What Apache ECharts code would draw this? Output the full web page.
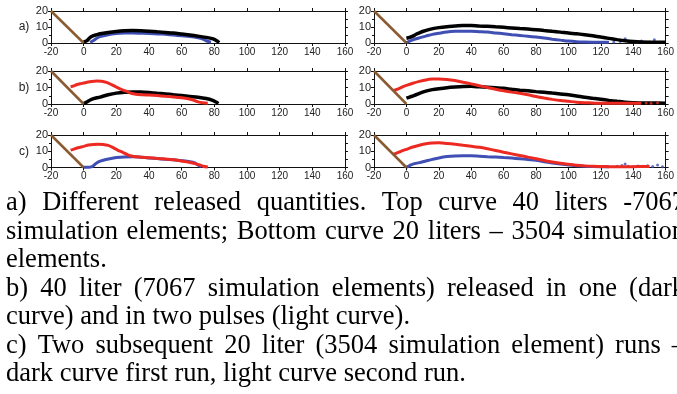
<!DOCTYPE html>
<html><head><meta charset="utf-8">
<script src="https://cdn.jsdelivr.net/npm/echarts@6/dist/echarts.min.js"></script>
<style>html,body{margin:0;padding:0;background:#fff}#c{width:677px;height:394px}</style>
</head><body><div id="c"></div><script>
// ---------- data ----------
const xMin = -20, xMax = 160, xStep = 20;
const yMin = 0, yMax = 20;
const rowLabels = ['a)', 'b)', 'c)'];
const brownLine = [[-20, 20], [0, 0]];

// a) left
const aL_black = [[0,0.5],[2,1.5],[4,3.5],[6,4.6],[8,5.2],[10,5.8],[15,6.6],[20,7.2],[25,7.6],[30,7.8],[35,7.7],[40,7.4],[45,7.0],[50,6.6],[55,6.2],[60,5.6],[65,5.0],[70,4.3],[75,3.5],[78,2.9],[80,2.3],[82,1.0],[83,0.2]];
const aL_blue = [[4,0.3],[6,1.5],[8,3.0],[10,4.0],[15,5.2],[20,5.9],[25,6.2],[30,6.2],[35,6.1],[40,6.0],[45,5.7],[50,5.4],[55,5.0],[60,4.5],[65,4.0],[70,3.2],[73,2.4],[75,1.4],[77,0.8],[78,0.6]];
// a) right
const aR_black = [[0,3.0],[2,3.5],[4,4.3],[6,5.5],[8,6.3],[10,7.2],[15,8.7],[20,9.6],[25,10.2],[30,10.6],[35,11.0],[40,10.9],[45,10.6],[50,10.4],[55,10.1],[60,9.8],[65,9.4],[70,9.0],[75,8.7],[80,8.3],[85,7.8],[90,7.3],[95,6.8],[100,6.2],[105,5.8],[110,5.2],[115,4.5],[120,3.7],[125,2.9],[130,2.1],[135,1.4],[140,0.9],[145,0.6],[150,0.5],[155,0.5],[160,0.4]];
const aR_blue = [[0,0.2],[2,1.2],[4,2.0],[8,3.2],[12,4.3],[16,5.4],[20,6.1],[25,6.9],[30,7.3],[35,7.4],[40,7.4],[45,7.1],[50,6.8],[55,6.3],[60,5.8],[65,5.2],[70,4.7],[75,4.2],[80,3.7],[85,3.1],[90,2.4],[95,1.8],[100,1.2],[105,0.8],[110,0.6],[115,0.5],[120,0.5],[125,0.4]];
const aR_blueTail = [[128,0.6],[132,1.0],[135,2.6],[138,0.8],[142,0.5],[145,1.2],[150,0.6],[153,2.0],[157,0.5]];
// b) left
const bL_black = [[0,0.3],[2,1.2],[4,2.4],[6,3.2],[8,3.8],[10,4.2],[15,5.6],[20,6.6],[25,7.1],[30,7.3],[35,7.2],[40,6.9],[45,6.5],[50,6.1],[55,5.6],[60,5.1],[65,4.6],[70,4.1],[75,3.3],[79,2.2],[81,1.2],[82.5,0.3]];
const bL_red = [[-8,10.5],[-6,11.0],[-4,11.8],[-2,12.3],[0,12.7],[2,13.2],[5,13.7],[8,13.9],[11,13.8],[14,13.1],[17,11.8],[20,10.3],[23,8.9],[26,7.8],[29,6.5],[32,5.9],[36,5.6],[40,5.4],[45,5.1],[50,4.7],[55,4.3],[60,3.8],[64,3.2],[67,2.4],[70,1.3],[73,0.7],[76,0.4]];
// b) right
const bR_black = [[0,3.5],[2,4.2],[5,5.2],[8,6.5],[12,7.8],[16,8.7],[20,9.3],[25,9.9],[30,10.3],[35,10.6],[40,10.7],[45,10.4],[50,10.1],[55,9.8],[60,9.5],[65,8.9],[70,8.4],[75,8.0],[80,7.5],[85,7.1],[90,6.6],[95,6.1],[100,5.6],[105,4.9],[110,4.1],[115,3.5],[120,2.9],[125,2.2],[130,1.6],[135,1.1],[140,0.8],[145,0.6],[150,0.6],[155,0.6],[160,0.5]];
const bR_red = [[-8,8.2],[-6,8.8],[-4,9.6],[-2,10.6],[0,11.3],[4,12.6],[8,13.7],[12,14.6],[16,15.1],[20,15.2],[25,14.9],[30,14.2],[35,13.2],[40,12.2],[45,11.1],[50,10.0],[55,8.9],[60,8.0],[65,7.2],[70,6.5],[75,5.6],[80,4.5],[85,3.6],[90,2.8],[95,2.1],[100,1.6],[105,1.1],[110,0.8],[115,0.6],[120,0.4],[125,0.4],[130,0.4],[135,0.4],[140,0.4],[145,0.5]];
const bR_redTail = [[148,0.6],[151,0.4],[155,0.7]];
// c) left
const cL_red = [[-8,10.7],[-6,11.3],[-4,12.0],[-2,12.5],[0,13.0],[3,13.8],[6,14.2],[9,14.3],[12,14.2],[15,13.6],[18,12.2],[21,10.6],[24,9.3],[27,7.8],[30,6.9],[34,6.4],[40,6.0],[45,5.6],[50,5.2],[55,4.7],[60,4.0],[64,3.3],[68,2.5],[71,1.6],[73,0.8],[76,0.3]];
const cL_blue = [[0,0.1],[3,0.1],[5,0.5],[7,2.0],[9,3.5],[12,4.5],[16,5.4],[20,6.1],[25,6.5],[30,6.6],[35,6.3],[40,5.9],[45,5.5],[50,5.1],[55,4.7],[60,4.2],[65,3.6],[68,2.9],[70,1.5],[72,0.5]];
// c) right
const cR_red = [[-8,8.2],[-6,8.9],[-4,9.7],[-2,10.5],[0,11.2],[4,12.6],[8,13.7],[12,14.6],[16,15.1],[20,15.2],[25,14.8],[30,14.3],[35,13.7],[40,13.1],[45,12.4],[50,11.5],[55,10.5],[60,9.4],[65,8.4],[70,7.4],[75,6.4],[80,5.4],[85,4.3],[90,3.4],[95,2.6],[100,2.0],[105,1.4],[110,1.0],[115,0.7],[120,0.6],[125,0.5],[130,0.5],[135,0.5],[140,0.5],[145,0.6],[150,0.6]];
const cR_blue = [[0,0.2],[2,1.2],[4,2.1],[8,3.0],[12,4.0],[16,5.0],[20,5.9],[25,6.7],[30,7.1],[35,7.2],[40,7.2],[45,6.9],[50,6.6],[55,6.4],[60,6.1],[65,5.8],[70,5.4],[75,4.9],[80,4.4],[85,3.6],[90,2.8],[95,2.1],[100,1.5],[105,1.1],[110,0.8],[115,0.6],[120,0.5],[125,0.5]];
const cR_blueTail = [[130,0.7],[133,1.2],[135,2.2],[137,0.8],[140,0.5],[143,1.0],[146,0.7],[149,1.1],[152,0.6],[155,1.6],[158,0.5]];

const captionLines = [
  {text: 'a) Different released quantities. Top curve 40 liters -7067', justify: true},
  {text: 'simulation elements; Bottom curve 20 liters \u2013 3504 simulation', justify: true},
  {text: 'elements.', justify: false},
  {text: 'b) 40 liter (7067 simulation elements) released in one (dark', justify: true},
  {text: 'curve) and in two pulses (light curve).', justify: false},
  {text: 'c) Two subsequent 20 liter (3504 simulation element) runs \u2013', justify: true},
  {text: 'dark curve first run, light curve second run.', justify: false}
];

// ---------- styles / layout ----------
const BLACK = '#000000', BLUE = '#3f4fb4', RED = '#ec2a22', BROWN = '#8a5a30';
const panels = [
  {row:0, col:0, lines:[[aL_blue,BLUE],[aL_black,BLACK]], dots:[]},
  {row:0, col:1, lines:[[aR_blue,BLUE],[aR_black,BLACK]], dots:[[aR_blueTail,BLUE]]},
  {row:1, col:0, lines:[[bL_black,BLACK],[bL_red,RED]], dots:[]},
  {row:1, col:1, lines:[[bR_black,BLACK],[bR_red,RED]], dots:[[bR_redTail,RED]]},
  {row:2, col:0, lines:[[cL_blue,BLUE],[cL_red,RED]], dots:[]},
  {row:2, col:1, lines:[[cR_blue,BLUE],[cR_red,RED]], dots:[[cR_blueTail,BLUE]]}
];
const colLeft = [51, 374], colWidth = [294, 296];
const rowTop = [11, 71, 135], rowHeight = [32, 33, 32.5];

const grids = [], xAxes = [], yAxes = [], series = [];
const axisLineStyle = {color: '#111', width: 1};
const labelStyle = {color: '#222', fontSize: 10, fontFamily: 'Liberation Sans, Arial, sans-serif'};

panels.forEach((p, i) => {
  grids.push({left: colLeft[p.col], top: rowTop[p.row], width: colWidth[p.col], height: rowHeight[p.row], containLabel: false});
  xAxes.push({gridIndex: i, type: 'value', position: 'bottom', min: xMin, max: xMax, interval: xStep,
    axisLine: {show: true, onZero: false, lineStyle: axisLineStyle},
    axisTick: {show: true, inside: false, length: 3, lineStyle: axisLineStyle},
    axisLabel: {show: true, margin: 4, interval: 0, showMinLabel: true, showMaxLabel: true, hideOverlap: false, ...labelStyle},
    splitLine: {show: false}});
  xAxes.push({gridIndex: i, type: 'value', position: 'top', min: xMin, max: xMax, interval: xStep,
    axisLine: {show: true, onZero: false, lineStyle: axisLineStyle},
    axisTick: {show: true, inside: false, length: 3, lineStyle: axisLineStyle},
    axisLabel: {show: false}, splitLine: {show: false}});
  yAxes.push({gridIndex: i, type: 'value', position: 'left', min: yMin, max: yMax, interval: 10,
    axisLine: {show: true, onZero: false, lineStyle: axisLineStyle},
    axisTick: {show: true, inside: false, length: 3, lineStyle: axisLineStyle},
    minorTick: {show: true, splitNumber: 2, length: 2, lineStyle: axisLineStyle},
    axisLabel: {show: true, margin: 3, ...labelStyle, fontSize: 11},
    splitLine: {show: false}});
  yAxes.push({gridIndex: i, type: 'value', position: 'right', min: yMin, max: yMax, interval: 5,
    axisLine: {show: true, onZero: false, lineStyle: axisLineStyle},
    axisTick: {show: true, inside: false, length: 3, lineStyle: axisLineStyle},
    axisLabel: {show: false}, splitLine: {show: false}});

  const xi = i * 2, yi = i * 2;
  p.lines.forEach((l, k) => {
    series.push({type: 'line', xAxisIndex: xi, yAxisIndex: yi, data: l[0], showSymbol: false, symbol: 'none',
      smooth: 0.3, lineStyle: {color: l[1], width: l[1] === BLACK ? 3.5 : 3}, z: 3 + k, silent: true, animation: false});
  });
  p.dots.forEach(d => {
    series.push({type: 'scatter', xAxisIndex: xi, yAxisIndex: yi, data: d[0], symbolSize: 3,
      itemStyle: {color: d[1]}, z: 3, silent: true, animation: false});
  });
  series.push({type: 'line', xAxisIndex: xi, yAxisIndex: yi, data: brownLine, showSymbol: false, symbol: 'none',
    lineStyle: {color: BROWN, width: 2.5}, z: 6, silent: true, animation: false});
});

// ---------- caption (justified serif text) ----------
const capFont = 26.5, capFamily = '"Liberation Serif", "Times New Roman", serif';
const capLeft = 6, capRight = 685, capBase0 = 212, capLineH = 28.5;
const ctx = document.createElement('canvas').getContext('2d');
ctx.font = capFont + 'px ' + capFamily;
const graphics = [];
captionLines.forEach((ln, li) => {
  const y = capBase0 + li * capLineH - capFont * 0.33;
  if (!ln.justify) {
    graphics.push({type: 'text', x: capLeft, y: y, silent: true,
      style: {text: ln.text, font: capFont + 'px ' + capFamily, fill: '#000', verticalAlign: 'middle', align: 'left'}});
  } else {
    const words = ln.text.split(' ');
    const widths = words.map(w => ctx.measureText(w).width);
    const total = widths.reduce((a, b) => a + b, 0);
    const gap = (capRight - capLeft - total) / (words.length - 1);
    let x = capLeft;
    words.forEach((w, wi) => {
      graphics.push({type: 'text', x: x, y: y, silent: true,
        style: {text: w, font: capFont + 'px ' + capFamily, fill: '#000', verticalAlign: 'middle', align: 'left'}});
      x += widths[wi] + gap;
    });
  }
});
rowLabels.forEach((t, r) => {
  graphics.push({type: 'text', x: 24, y: rowTop[r] + rowHeight[r] * 0.5, silent: true,
    style: {text: t, font: '12px "Liberation Sans", Arial, sans-serif', fill: '#222', align: 'center', verticalAlign: 'middle'}});
});

const chart = echarts.init(document.getElementById('c'), null, {renderer: 'canvas'});
chart.setOption({
  animation: false,
  backgroundColor: '#ffffff',
  grid: grids, xAxis: xAxes, yAxis: yAxes, series: series,
  graphic: graphics
});
</script></body></html>
